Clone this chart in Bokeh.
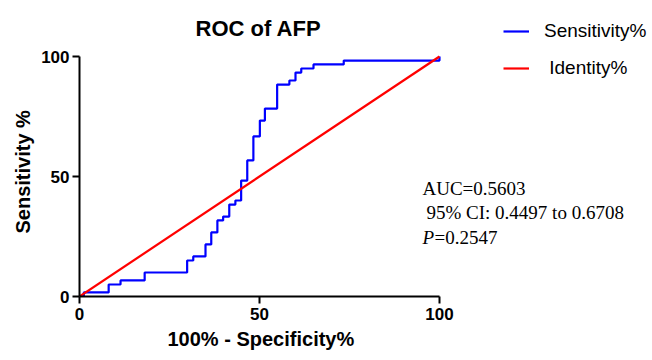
from bokeh.plotting import figure
from bokeh.models import Range1d, FixedTicker, Label, Legend, LegendItem, Title
from bokeh.embed import file_html
from bokeh.resources import INLINE

# ROC points (step "after": y holds from x_i to x_{i+1})
fpr = [0, 1.2, 8.1, 11.4, 18.1, 29.9, 31.6, 35.0, 36.6, 38.3, 39.9, 41.6, 43.3,
       44.9, 46.6, 48.3, 50.1, 51.5, 54.9, 58.3, 60.0, 61.6, 65.0, 73.4, 100]
sens = [0, 1.7, 5.0, 6.7, 10.0, 15.0, 16.7, 21.7, 26.7, 31.7, 33.3, 38.3, 40.0,
        48.3, 56.7, 66.7, 73.3, 78.3, 88.3, 90.0, 93.3, 95.0, 96.7, 98.3, 100]
identity_x = [0, 100]
identity_y = [0, 100]
ticks = [0, 50, 100]
title_text = "ROC of AFP"
x_label = "100% - Specificity%"
y_label = "Sensitivity %"
stats_lines = ["AUC=0.5603", "95% CI: 0.4497 to 0.6708", "=0.2547"]

SANS = "Liberation Sans"
SERIF = "Liberation Serif"

W, H = 652, 360
LEFT, BOTTOM = 79, 64
PX_X, PX_Y = 3.6, 2.4   # pixels per data unit
frame_w = W - LEFT
frame_h = H - BOTTOM

p = figure(width=W, height=H, output_backend="svg", toolbar_location=None,
           x_range=Range1d(0, frame_w / PX_X), y_range=Range1d(0, frame_h / PX_Y),
           min_border_left=LEFT, min_border_right=0, min_border_top=0,
           min_border_bottom=BOTTOM)
p.outline_line_color = None
p.xgrid.visible = False
p.ygrid.visible = False
p.background_fill_color = "white"
p.border_fill_color = "white"

for ax in (p.xaxis[0], p.yaxis[0]):
    ax.ticker = FixedTicker(ticks=ticks)
    ax.bounds = (ticks[0], ticks[-1])
    ax.minor_tick_line_color = None
    ax.axis_line_width = 2
    ax.axis_line_color = "black"
    ax.major_tick_line_width = 2
    ax.major_tick_line_color = "black"
    ax.major_tick_out = 7
    ax.major_tick_in = 0
    ax.major_label_text_font = SANS
    ax.major_label_text_font_style = "bold"
    ax.major_label_text_font_size = "17px"
    ax.major_label_text_color = "black"
p.xaxis.major_label_standoff = 4
p.yaxis.major_label_standoff = 3

# axis titles, placed along the 0..100 span of each axis
xt = Title(text=x_label, align="left", offset=88, standoff=6,
           text_font=SANS, text_font_style="bold", text_font_size="20px",
           text_color="black")
p.add_layout(xt, "below")
yt = Title(text=y_label, align="left", offset=63, standoff=10,
           text_font=SANS, text_font_style="bold", text_font_size="20px",
           text_color="black")
p.add_layout(yt, "left")

r_sens = p.step(fpr, sens, mode="after", line_color="#0000FF", line_width=2.2)
r_id = p.line(identity_x, identity_y, line_color="#FF0000", line_width=2.2)

legend = Legend(items=[LegendItem(label="Sensitivity%", renderers=[r_sens]),
                       LegendItem(label=" Identity%", renderers=[r_id])],
                location=(424, 217), padding=0, margin=0, spacing=15,
                glyph_width=26, glyph_height=22, label_height=22,
                label_standoff=15, border_line_color=None,
                background_fill_alpha=0, label_text_font=SANS,
                label_text_font_size="19px", label_text_color="black")
p.add_layout(legend, "center")

p.add_layout(Label(x=179, y=268, x_units="screen", y_units="screen",
                   text=title_text, text_align="center", text_baseline="alphabetic",
                   text_font=SANS, text_font_style="bold", text_font_size="22px",
                   text_color="black"))

base_x = 343
p.add_layout(Label(x=base_x, y=108.5, x_units="screen", y_units="screen",
                   text=stats_lines[0], text_baseline="alphabetic",
                   text_font=SERIF, text_font_size="19px", text_color="black"))
p.add_layout(Label(x=base_x + 4, y=84.5, x_units="screen", y_units="screen",
                   text=stats_lines[1], text_baseline="alphabetic",
                   text_font=SERIF, text_font_size="19px", text_color="black"))
p.add_layout(Label(x=base_x, y=59.5, x_units="screen", y_units="screen",
                   text="P", text_baseline="alphabetic", text_font_style="italic",
                   text_font=SERIF, text_font_size="19px", text_color="black"))
p.add_layout(Label(x=base_x + 12, y=59.5, x_units="screen", y_units="screen",
                   text=stats_lines[2], text_baseline="alphabetic",
                   text_font=SERIF, text_font_size="19px", text_color="black"))

open("out.html", "w").write(file_html(p, INLINE))
